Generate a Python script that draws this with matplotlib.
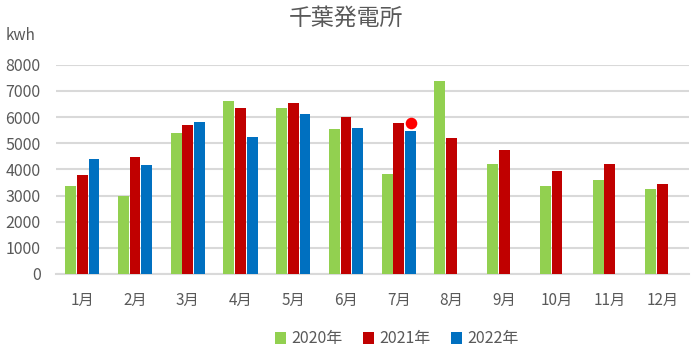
#!/usr/bin/env python3

import matplotlib.pyplot as plt
import numpy as np

plt.rcParams['font.family'] = ['Noto Sans CJK JP', 'DejaVu Sans']

months = [f"{m}月" for m in range(1, 13)]
y2020 = [3370, 3000, 5390, 6610, 6340, 5540, 3820, 7380, 4200, 3370, 3590, 3250]
y2021 = [3800, 4480, 5700, 6340, 6530, 6000, 5770, 5200, 4740, 3940, 4200, 3440]
y2022 = [4400, 4170, 5820, 5240, 6110, 5580, 5470]
marker_month = 6   # index of 7月
marker_value = 5760

series = [
    ("2020年", y2020, "#92D050"),
    ("2021年", y2021, "#C00000"),
    ("2022年", y2022, "#0070C0"),
]

text_color = "#595959"
grid_color = "#D9D9D9"

fig = plt.figure(figsize=(6.91, 3.53), dpi=100)
ax = fig.add_axes([0.081, 0.2238, 0.916, 0.5929])

x = np.arange(len(months))
width = 0.205
step = 0.222
for i, (label, vals, color) in enumerate(series):
    xs = x[:len(vals)] + (i - 1) * step
    ax.bar(xs, vals, width=width, color=color, label=label, zorder=3)

ax.scatter([x[marker_month] + step], [marker_value], s=70, color="#FF0000",
           zorder=4, linewidths=0)

ax.set_xlim(-0.5, 11.5)
ax.set_ylim(0, 8000)
ax.set_yticks(range(0, 8001, 1000))
ax.set_xticks(x)
ax.set_xticklabels(months)
ax.yaxis.grid(True, color=grid_color, linewidth=1.5, zorder=0)
ax.tick_params(axis='both', length=0, labelcolor=text_color)
ax.tick_params(axis='y', pad=11, labelsize=11.5)
ax.tick_params(axis='x', pad=13, labelsize=11)
for side in ['left', 'right', 'top']:
    ax.spines[side].set_visible(False)
ax.spines['bottom'].set_color(grid_color)
ax.spines['bottom'].set_linewidth(1.5)

fig.text(0.5, 1 - 18 / 353, "千葉発電所", ha='center', va='center',
         fontsize=16.5, color=text_color)
fig.text(0.008, 1 - 36 / 353, "kwh", ha='left', va='center',
         fontsize=11, color=text_color)

fig.legend(loc='center', bbox_to_anchor=(0.574, 1 - 339 / 353), ncol=3,
           frameon=False, fontsize=11.5, handlelength=0.7, handleheight=0.7,
           handletextpad=0.3, columnspacing=1.3, labelcolor=text_color)

plt.savefig("out.png", dpi=100)
